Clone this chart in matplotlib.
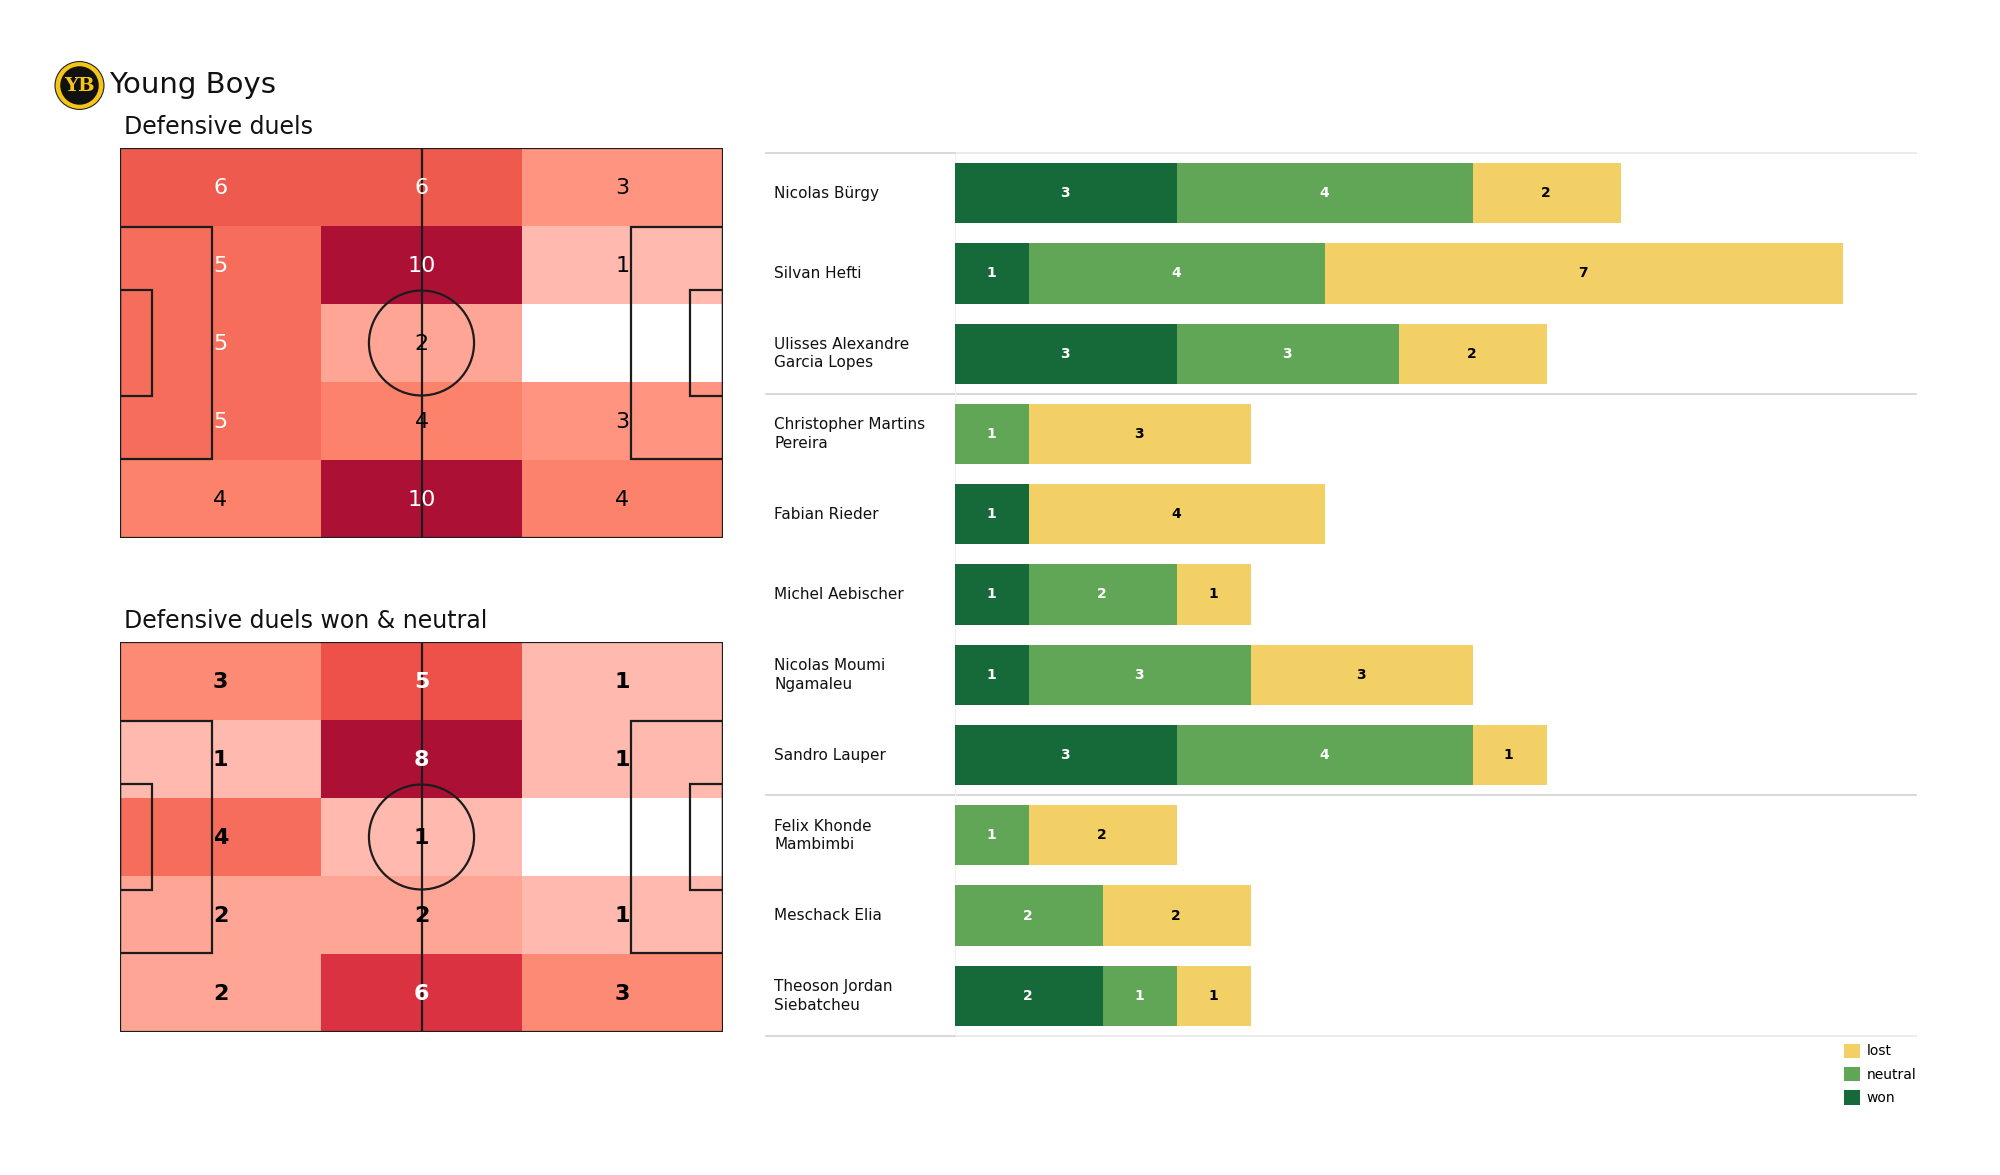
#!/usr/bin/env python3
"""Young Boys defensive duels: two pitch heatmaps and a per-player stacked bar."""

import matplotlib
matplotlib.use("Agg")
import matplotlib.pyplot as plt
import numpy as np
from matplotlib.colors import LinearSegmentedColormap
from matplotlib.patches import Circle, Ellipse, Rectangle

W, H = 2000, 1175

TEAM = "Young Boys"
DUELS = [[6, 6, 3], [5, 10, 1], [5, 2, 0], [5, 4, 3], [4, 10, 4]]
DUELS_WON = [[3, 5, 1], [1, 8, 1], [4, 1, 0], [2, 2, 1], [2, 6, 3]]

PLAYERS = [
    "Nicolas Bürgy", "Silvan Hefti", "Ulisses Alexandre\nGarcia Lopes",
    "Christopher Martins\nPereira", "Fabian Rieder", "Michel Aebischer",
    "Nicolas Moumi\nNgamaleu", "Sandro Lauper", "Felix Khonde\nMambimbi",
    "Meschack Elia", "Theoson Jordan\nSiebatcheu",
]
WON = [3, 1, 3, 0, 1, 1, 1, 3, 0, 0, 2]
NEUTRAL = [4, 4, 3, 1, 0, 2, 3, 4, 1, 2, 1]
LOST = [2, 7, 2, 3, 4, 1, 3, 1, 2, 2, 1]

C_WON = "#166A3A"
C_NEUTRAL = "#61A656"
C_LOST = "#F2D066"
LINE = "#1C1C1C"

HEAT = LinearSegmentedColormap.from_list("heat", [
    (0.0, "#FFFFFF"), (0.01, "#FFC0B6"), (0.1, "#FFB9AE"), (0.125, "#FFB9AE"),
    (0.2, "#FFA595"), (0.25, "#FFA595"), (0.3, "#FF9380"), (0.375, "#FC8A74"),
    (0.4, "#FC826C"), (0.5, "#F66E5B"), (0.6, "#EF5A4E"), (0.625, "#EE5249"),
    (0.75, "#DC3242"), (1.0, "#AD1035"),
])


def box(x0, y0, x1, y1):
    # pixel box (top-left origin) to figure fractions
    return [x0 / W, 1 - y1 / H, (x1 - x0) / W, (y1 - y0) / H]


def draw_pitch(ax):
    kw = dict(fill=False, edgecolor=LINE, linewidth=1.6, zorder=3)
    ax.add_patch(Rectangle((0, 0), 105, 68, **kw))
    ax.add_patch(Rectangle((0, 13.84), 16, 40.32, **kw))
    ax.add_patch(Rectangle((89, 13.84), 16, 40.32, **kw))
    ax.add_patch(Rectangle((0, 24.84), 5.5, 18.32, **kw))
    ax.add_patch(Rectangle((99.3, 24.84), 5.7, 18.32, **kw))
    ax.add_patch(Circle((52.5, 34), 9.15, **kw))
    ax.plot([52.5, 52.5], [0, 68], color=LINE, linewidth=1.6, zorder=3)


def heatmap(ax, grid, weight):
    values = np.array(grid)
    x_edges = np.linspace(0, 105, values.shape[1] + 1)
    y_edges = np.linspace(0, 68, values.shape[0] + 1)
    ax.pcolormesh(x_edges, y_edges, values, cmap=HEAT, vmin=0, vmax=values.max(), zorder=1)
    draw_pitch(ax)
    for r, row in enumerate(grid):
        for c, v in enumerate(row):
            if v == 0:
                continue
            ax.text(
                (x_edges[c] + x_edges[c + 1]) / 2, (y_edges[r] + y_edges[r + 1]) / 2 + 0.2, str(v),
                ha="center", va="center", fontsize=16, fontweight=weight,
                color="white" if v >= 5 else "black", zorder=4,
            )
    ax.set_xlim(0, 105)
    ax.set_ylim(68, 0)
    ax.axis("off")


def draw_logo(fig):
    ax = fig.add_axes(box(52, 58, 107, 113))
    ax.set_xlim(-1, 1)
    ax.set_ylim(-1, 1)
    ax.axis("off")
    ax.add_patch(Ellipse((0, 0), 1.78, 1.74, facecolor="#F5C518", edgecolor="#222222", linewidth=0.8))
    ax.add_patch(Circle((0, 0), 0.7, facecolor="#111111"))
    ax.text(0, -0.03, "YB", ha="center", va="center", fontsize=14, fontweight="bold",
            family="DejaVu Serif", color="#F5C518")


def draw_bars(fig):
    ax = fig.add_axes(box(955, 153, 1916, 1036))
    y = np.arange(len(PLAYERS))
    left = np.zeros(len(PLAYERS))
    for vals, color, label, txt in [
        (WON, C_WON, "won", "white"),
        (NEUTRAL, C_NEUTRAL, "neutral", "white"),
        (LOST, C_LOST, "lost", "black"),
    ]:
        ax.barh(y, vals, left=left, height=0.75, color=color, label=label, zorder=2)
        for i, v in enumerate(vals):
            if v:
                ax.text(left[i] + v / 2 - 0.015, i, str(v), ha="center", va="center",
                        fontsize=10, fontweight="bold", color=txt, zorder=3)
        left += np.array(vals)
    ax.set_xlim(0, 12.99)
    ax.set_ylim(len(PLAYERS) - 0.5, -0.5)
    ax.axis("off")

    trans = ax.get_yaxis_transform()
    for yy in (-0.5, 2.5, 7.5, 10.5):
        dark = yy in (2.5, 7.5)
        ax.plot([0, 1], [yy, yy], transform=trans, color="#D2D2D2" if dark else "#E8E8E8",
                linewidth=1.2, zorder=1, clip_on=False)
        ax.plot([-0.197, 0], [yy, yy], transform=trans, color="#D2D2D2",
                linewidth=1.2, zorder=1, clip_on=False)
    ax.plot([0, 0], [-0.5, 10.5], color="#F0F0F0", linewidth=1, zorder=1)

    for i, name in enumerate(PLAYERS):
        ax.text(-0.188, i, name, transform=trans, ha="left", va="center",
                fontsize=11, color="#111111", linespacing=1.3)

    handles, labels = ax.get_legend_handles_labels()
    fig.legend(
        handles[::-1], labels[::-1], loc="upper left", bbox_to_anchor=(1831 / W, 1 - 1031 / H),
        frameon=False, fontsize=10, handlelength=1.2, handleheight=1.2,
        handletextpad=0.45, labelspacing=0.62, borderpad=0.4,
    )


def main():
    fig = plt.figure(figsize=(W / 100, H / 100), dpi=100, facecolor="white")

    fig.text(109 / W, 1 - 85 / H, TEAM, fontsize=21, va="center", ha="left", color="#111111")
    fig.text(124 / W, 1 - 127 / H, "Defensive duels", fontsize=17, va="center", ha="left", color="#111111")
    fig.text(124 / W, 1 - 621 / H, "Defensive duels won & neutral", fontsize=17, va="center", ha="left", color="#111111")
    draw_logo(fig)

    heatmap(fig.add_axes(box(120, 148, 723, 538)), DUELS, "normal")
    heatmap(fig.add_axes(box(120, 642, 723, 1032)), DUELS_WON, "bold")

    draw_bars(fig)
    fig.savefig("out.png", dpi=100, facecolor="white")
    plt.close(fig)


if __name__ == "__main__":
    main()
